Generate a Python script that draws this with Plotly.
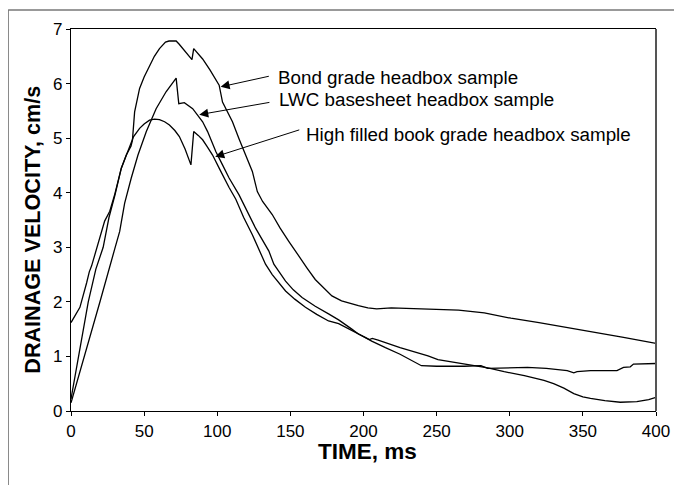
import plotly.graph_objects as go

# ---- data (time in ms, drainage velocity in cm/s) ----
bond_t = [0, 5, 11.8, 17, 22, 26, 30, 34.4, 37.8, 41, 42, 43.5, 46.9, 50, 53.7, 57, 60.5, 64.6, 67,
          71.9, 74, 77, 80, 82.7, 83.9, 87, 90, 95, 101.3, 103.6, 107, 110.4, 115, 119.5, 124, 127.4,
          131, 137.6, 143, 148.9, 155, 161.4, 167, 169.3, 176.1, 178.4, 185, 192, 196.5, 203, 209,
          219, 235, 251, 265, 282.6, 300.8, 320, 341.6, 360, 377.8, 400]
bond_v = [0.22, 1.0, 2.0, 2.6, 3.0, 3.55, 3.95, 4.45, 4.69, 4.85, 4.96, 5.48, 5.91, 6.12, 6.33, 6.5,
          6.64, 6.76, 6.78, 6.78, 6.72, 6.62, 6.52, 6.44, 6.64, 6.55, 6.45, 6.25, 5.97, 5.66, 5.48,
          5.3, 4.98, 4.69, 4.39, 4.02, 3.84, 3.6, 3.35, 3.11, 2.86, 2.62, 2.41, 2.35, 2.17, 2.11,
          2.02, 1.96, 1.93, 1.89, 1.87, 1.89, 1.88, 1.87, 1.85, 1.8, 1.7, 1.62, 1.52, 1.44, 1.35, 1.24]

lwc_t = [0, 10, 20, 30, 33.3, 34.4, 36.7, 41.2, 45.8, 51.5, 58.2, 65, 70, 71.9, 73.7, 77.5, 83.2,
         90, 93.4, 99.1, 103.6, 108.1, 114.9, 119.5, 126.2, 135.3, 138.7, 146.7, 152, 158, 167,
         176.1, 183, 192, 196.5, 201, 205.6, 215, 225, 239.6, 250, 269, 280.3, 284.9, 300, 312.1,
         325, 339.3, 343.8, 346, 355.2, 373.3, 377.8, 382.4, 384.6, 400]
lwc_v = [0.15, 1.07, 2.02, 2.98, 3.29, 3.46, 3.81, 4.27, 4.69, 5.12, 5.54, 5.85, 6.02, 6.1, 5.63,
         5.65, 5.54, 5.3, 5.12, 4.75, 4.51, 4.27, 3.96, 3.72, 3.35, 2.93, 2.69, 2.38, 2.22, 2.08,
         1.92, 1.78, 1.67, 1.5, 1.41, 1.35, 1.28, 1.16, 1.04, 0.83, 0.82, 0.82, 0.83, 0.78, 0.79,
         0.8, 0.78, 0.74, 0.7, 0.72, 0.74, 0.74, 0.8, 0.81, 0.86, 0.87]

hf_t = [0, 3, 6.1, 10.7, 12.5, 14.1, 18.6, 23, 26.5, 30, 34.4, 37.8, 40, 42.8, 46.9, 50, 53.7, 57.1,
        60.5, 64, 67.3, 71, 74.1, 78, 82, 83.9, 87, 90, 93, 96.8, 101.3, 103.6, 108, 112.7, 118, 124,
        128, 133, 137.6, 142, 146.7, 153, 160.3, 168, 176.1, 183, 192, 201, 204, 206, 210, 225,
        239.6, 244.1, 250.9, 260, 269, 278, 285, 296.2, 310, 323.4, 330, 337, 343.8, 350, 355.2,
        365, 375.6, 386.9, 395, 400]
hf_v = [1.62, 1.75, 1.9, 2.35, 2.55, 2.66, 3.08, 3.48, 3.66, 3.98, 4.45, 4.69, 4.82, 5.03, 5.18,
        5.26, 5.33, 5.35, 5.34, 5.3, 5.24, 5.14, 5.03, 4.8, 4.51, 5.12, 5.05, 4.97, 4.85, 4.69, 4.45,
        4.32, 4.1, 3.88, 3.55, 3.23, 3.0, 2.69, 2.5, 2.35, 2.2, 2.05, 1.9, 1.77, 1.65, 1.6, 1.47,
        1.35, 1.31, 1.33, 1.3, 1.16, 1.05, 1.01, 0.94, 0.9, 0.85, 0.82, 0.79, 0.72, 0.65, 0.56, 0.5,
        0.42, 0.32, 0.26, 0.23, 0.19, 0.16, 0.17, 0.21, 0.25]

labels = ["Bond grade headbox sample", "LWC basesheet headbox sample",
          "High filled book grade headbox sample"]
x_ticks = [0, 50, 100, 150, 200, 250, 300, 350, 400]
y_ticks = [0, 1, 2, 3, 4, 5, 6, 7]

FONT = "Liberation Sans, Arial, sans-serif"

fig = go.Figure()
for t, v, name in [(bond_t, bond_v, labels[0]), (lwc_t, lwc_v, labels[1]), (hf_t, hf_v, labels[2])]:
    fig.add_trace(go.Scatter(x=t, y=v, mode="lines", name=name,
                             line=dict(color="black", width=1.3), showlegend=False))

# arrows (tip -> curve, tail near label) and labels
arrows = [(102.3, 5.94, 136.3, 6.14), (87.7, 5.43, 136.7, 5.66), (98.6, 4.66, 157.1, 5.16)]
label_pos = [(140.2, 6.12), (140.8, 5.70), (159.5, 5.06)]
for (x, y, ax, ay), (lx, ly), txt in zip(arrows, label_pos, labels):
    fig.add_annotation(x=x, y=y, ax=ax, ay=ay, xref="x", yref="y", axref="x", ayref="y",
                       text="", showarrow=True, arrowhead=2, arrowsize=1.8, arrowwidth=1,
                       arrowcolor="black")
    fig.add_annotation(x=lx, y=ly, xref="x", yref="y", text=txt, showarrow=False,
                       xanchor="left", yanchor="middle",
                       font=dict(family=FONT, size=18.8, color="black"))

# axis titles
fig.add_annotation(x=0.5066, y=-0.107, xref="paper", yref="paper", text="<b>TIME, ms</b>",
                   showarrow=False, xanchor="center", yanchor="middle",
                   font=dict(family=FONT, size=22.5, color="black"))
fig.add_annotation(x=-0.0654, y=0.474, xref="paper", yref="paper",
                   text="<b>DRAINAGE VELOCITY, cm/s</b>", textangle=-90,
                   showarrow=False, xanchor="center", yanchor="middle",
                   font=dict(family=FONT, size=21.6, color="black"))

# outer frame (top and left edges) and right border of plot
fig.add_shape(type="line", xref="paper", yref="paper", x0=-0.1075, x1=1.1, y0=1.0495, y1=1.0495,
              line=dict(color="#777777", width=1.5))
fig.add_shape(type="line", xref="paper", yref="paper", x0=-0.1075, x1=-0.1075, y0=1.0495, y1=-0.3,
              line=dict(color="#777777", width=1.5))
fig.add_shape(type="line", xref="paper", yref="paper", x0=1, x1=1, y0=0, y1=1,
              line=dict(color="#555555", width=2))

# the page places the figure 8 px from the window's top-left corner,
# so the figure is sized to the remaining 674x477 area
fig.update_layout(
    width=674, height=477,
    margin=dict(l=63, r=23, t=19, b=74),
    paper_bgcolor="white", plot_bgcolor="white",
    font=dict(family=FONT, color="black"),
    xaxis=dict(range=[0, 400], tickvals=x_ticks, ticks="outside", ticklen=4, tickcolor="black",
               showline=True, linecolor="black", linewidth=1.3, mirror=True, showgrid=False,
               zeroline=False, tickfont=dict(size=17, family=FONT, color="black")),
    yaxis=dict(range=[0, 7], tickvals=y_ticks, ticks="outside", ticklen=4, tickcolor="black",
               showline=True, linecolor="black", linewidth=1.3, showgrid=False,
               zeroline=False, tickfont=dict(size=17, family=FONT, color="black")),
)

fig.write_html("out.html")
